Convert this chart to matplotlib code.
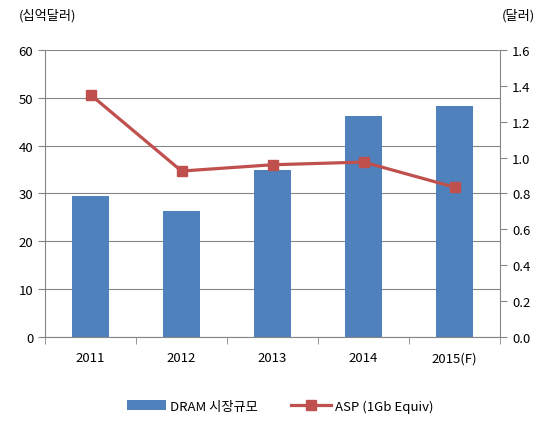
import numpy as np
import matplotlib
matplotlib.use("Agg")
import matplotlib.pyplot as plt

plt.rcParams['font.family'] = ['Noto Sans CJK KR', 'DejaVu Sans']
plt.rcParams['font.size'] = 9.5

years = ['2011', '2012', '2013', '2014', '2015(F)']
market = [29.5, 26.4, 35.0, 46.2, 48.2]   # 십억달러
asp = [1.35, 0.925, 0.96, 0.975, 0.835]   # 달러

fig = plt.figure(figsize=(5.49, 4.27), dpi=100)
ax = fig.add_axes([0.082, 0.208, 0.829, 0.673])
x = np.arange(len(years))

ax.bar(x, market, width=0.4, color='#4f81bd', label='DRAM 시장규모', zorder=2)
ax.set_ylim(0, 60)
ax.set_yticks(np.arange(0, 61, 10))
ax.set_xlim(-0.5, len(years) - 0.5)
ax.set_xticks(x)
ax.set_xticklabels(years)
ax.set_xticks(np.arange(-0.5, len(years), 1), minor=True)
ax.tick_params(axis='x', which='major', length=0, pad=10)
ax.tick_params(axis='x', which='minor', length=5, color='#868686')
ax.tick_params(axis='y', length=5, color='#868686')
ax.yaxis.grid(True, color='#868686', linewidth=0.8, zorder=0)
ax.set_axisbelow(True)
for s in ['top', 'right']:
    ax.spines[s].set_visible(False)
for s in ['left', 'bottom']:
    ax.spines[s].set_color('#868686')

ax2 = ax.twinx()
ax2.plot(x, asp, color='#c0504d', linewidth=2.3, marker='s', markersize=7.5,
         label='ASP (1Gb Equiv)', zorder=3)
ax2.set_ylim(0, 1.6)
ax2.set_yticks(np.arange(0, 1.61, 0.2))
ax2.set_yticklabels([f'{v:.1f}' for v in np.arange(0, 1.61, 0.2)])
ax2.tick_params(axis='y', length=5, color='#868686')
for s in ['top', 'left', 'bottom']:
    ax2.spines[s].set_visible(False)
ax2.spines['right'].set_color('#868686')

fig.text(0.035, 0.962, '(십억달러)', va='center')
fig.text(0.975, 0.962, '(달러)', va='center', ha='right')

h1, l1 = ax.get_legend_handles_labels()
h2, l2 = ax2.get_legend_handles_labels()
fig.legend(h1 + h2, l1 + l2, loc='center', bbox_to_anchor=(0.51, 0.047), ncol=2,
           frameon=False, handlelength=3, handletextpad=0.3, columnspacing=2.5)

fig.savefig('out.png', dpi=100)
